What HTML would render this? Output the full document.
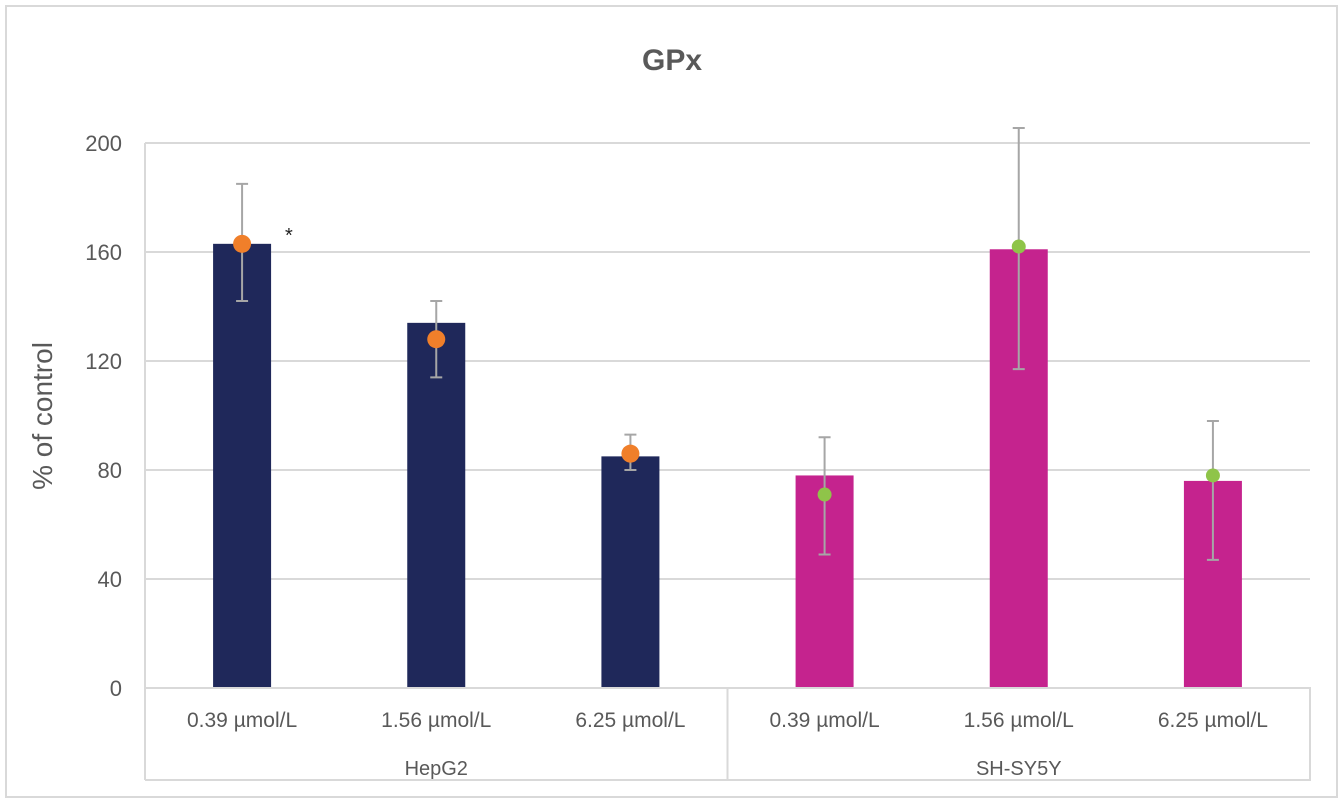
<!DOCTYPE html>
<html><head><meta charset="utf-8"><style>
html,body{margin:0;padding:0;background:#fff;}
svg{display:block;font-family:"Liberation Sans",sans-serif;}
</style></head><body>
<svg id="chart" width="1344" height="803" viewBox="0 0 1344 803">
<rect x="6" y="6" width="1331" height="791" fill="#fff" stroke="#d9d9d9" stroke-width="2"/>
<text x="672" y="70" text-anchor="middle" font-size="30" font-weight="bold" fill="#595959">GPx</text>
<text transform="translate(52,416) rotate(-90)" text-anchor="middle" font-size="28" fill="#595959">% of control</text>
<g id="grid"></g><g id="bars"></g><g id="xaxis"></g>
</svg>
<script>
const categories=["0.39 µmol/L","1.56 µmol/L","6.25 µmol/L","0.39 µmol/L","1.56 µmol/L","6.25 µmol/L"];
const groups=["HepG2","SH-SY5Y"];
const barValues=[163,134,85,78,161,76];
const errHigh=[185,142,93,92,205.5,98];
const errLow=[142,114,80,49,117,47];
const dotValues=[163,128,86,71,162,78];
const yTicks=[0,40,80,120,160,200];
const NS="http://www.w3.org/2000/svg";
const x0=145,x1=1310,y0=688,ymax=200,ytop=143;
const y=v=>y0-(v/ymax)*(y0-ytop);
const bw=(x1-x0)/categories.length;
const xc=i=>x0+bw*(i+0.5);
function mk(tag,attrs,parent){const e=document.createElementNS(NS,tag);for(const k in attrs)e.setAttribute(k,attrs[k]);document.getElementById(parent).appendChild(e);return e;}
yTicks.forEach(t=>{
  const l=mk('line',{x1:x0,x2:x1,y1:y(t),y2:y(t),stroke:'#d9d9d9','stroke-width':2},'grid');
  
  
  const tx=mk('text',{x:122,y:y(t)+8,'text-anchor':'end','font-size':22,fill:'#595959'},'grid');
  tx.textContent=t;
  
  
});
const vl=mk('line',{x1:x0,x2:x0,y1:ytop,y2:780,stroke:'#d9d9d9','stroke-width':2},'grid');


categories.forEach((c,i)=>{
  const hep=i<3;
  const r=mk('rect',{x:xc(i)-29,y:y(barValues[i]),width:58,height:y0-y(barValues[i]),fill:hep?'#1f285a':'#c5238e'},'bars');
  
  
  const eb=mk('path',{d:`M${xc(i)},${y(errHigh[i])}V${y(errLow[i])}M${xc(i)-6},${y(errHigh[i])}H${xc(i)+6}M${xc(i)-6},${y(errLow[i])}H${xc(i)+6}`,stroke:'#a6a6a6','stroke-width':2,fill:'none'},'bars');
  
  
  const d=mk('circle',{cx:xc(i),cy:y(dotValues[i]),r:hep?9:7,fill:hep?'#f07f2a':'#8fc449'},'bars');
  
  
  const tx=mk('text',{x:xc(i),y:727,'text-anchor':'middle','font-size':21,fill:'#595959'},'xaxis');
  tx.textContent=c;
  
  
});
const st=mk('text',{x:285,y:242,'font-size':20,fill:'#222'},'bars');
st.textContent='*';


const ax=mk('path',{d:`M${x0},${y0}H${x1}V780H${x0}M${x0+bw*3},${y0}V780`,stroke:'#d9d9d9','stroke-width':2,fill:'none'},'xaxis');


groups.forEach((g,k)=>{
  const tx=mk('text',{x:x0+bw*(3*k+1.5),y:775,'text-anchor':'middle','font-size':20,fill:'#595959'},'xaxis');
  tx.textContent=g;
  
  
});
</script>
</body></html>
